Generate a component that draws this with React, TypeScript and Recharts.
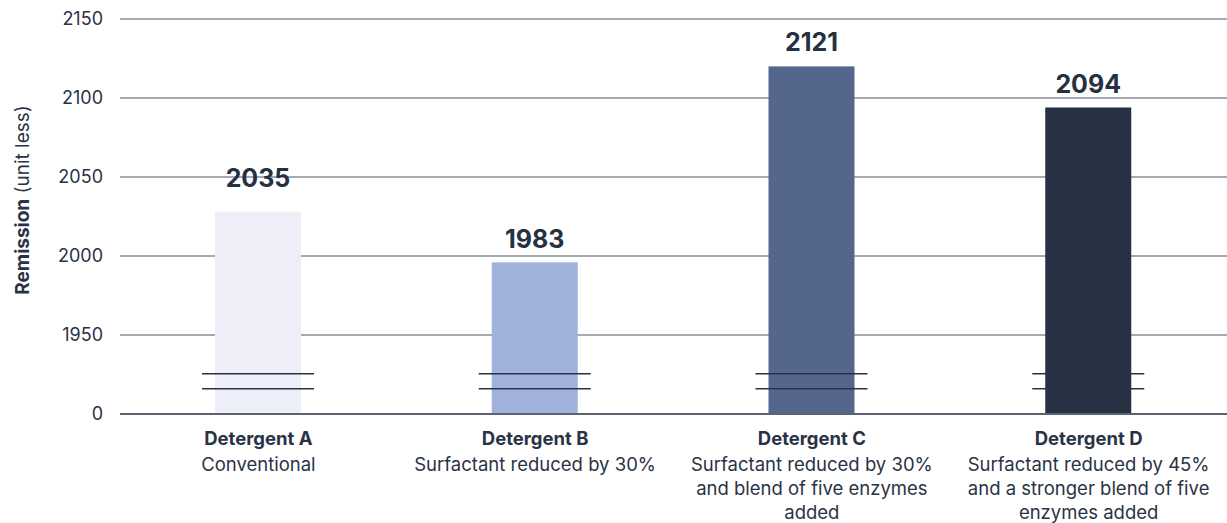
import React from "react";
import {
  BarChart,
  Bar,
  XAxis,
  YAxis,
  CartesianGrid,
  Cell,
  LabelList,
  Label,
} from "recharts";

const products = ["Detergent A", "Detergent B", "Detergent C", "Detergent D"];
const descriptions = [
  ["Conventional"],
  ["Surfactant reduced by 30%"],
  ["Surfactant reduced by 30%", "and blend of five enzymes", "added"],
  ["Surfactant reduced by 45%", "and a stronger blend of five", "enzymes added"],
];
// bar heights as drawn vs. the numbers printed above them
const barValues = [2028, 1996, 2120, 2094];
const printedValues = [2035, 1983, 2121, 2094];
const barColors = ["#eeeef8", "#a0b2dc", "#54668c", "#263244"];
const yTicks = [1900, 1950, 2000, 2050, 2100, 2150];

const AXIS_BASE = 1900; // drawn as "0" after the axis break
const FONT = "Inter, 'Noto Sans', sans-serif";
const INK = "#2a3345";

const data = products.map((name, i) => ({
  name,
  value: barValues[i],
  printed: printedValues[i],
}));

// bar with the double break mark near its foot
const BrokenBar = (props: any) => {
  const { x, y, width, height, fill, value } = props;
  const v = Array.isArray(value) ? value[1] : value;
  const ppu = height / (v - AXIS_BASE);
  const bottom = y + height;
  const y1 = bottom - 25.5 * ppu;
  const y2 = bottom - 16 * ppu;
  return (
    <g>
      <rect x={x} y={y} width={width} height={height} fill={fill} />
      <line x1={x - 13} x2={x + width + 13} y1={y1} y2={y1} stroke={INK} strokeWidth={1.5} />
      <line x1={x - 13} x2={x + width + 13} y1={y2} y2={y2} stroke={INK} strokeWidth={1.5} />
    </g>
  );
};

const ValueLabel = (props: any) => {
  const { x, y, width, height, index, value } = props;
  const printed = printedValues[index];
  const ppu = height / (value - AXIS_BASE);
  const top = Math.max(value, printed);
  const yRef = y - (top - value) * ppu;
  return (
    <text
      x={x + width / 2}
      y={yRef - 14}
      textAnchor="middle"
      fontFamily={FONT}
      fontWeight={700}
      fontSize={25}
      fill="#253142"
    >
      {printed}
    </text>
  );
};

const CategoryTick = (props: any) => {
  const { x, y, payload } = props;
  const idx = products.indexOf(payload.value);
  const lines = descriptions[idx] || [];
  return (
    <g>
      <text
        x={x}
        y={y + 25}
        textAnchor="middle"
        fontFamily={FONT}
        fontWeight={700}
        fontSize={18.5}
        fill={INK}
      >
        {payload.value}
      </text>
      {lines.map((ln, i) => (
        <text
          key={i}
          x={x}
          y={y + 51 + i * 24}
          textAnchor="middle"
          fontFamily={FONT}
          fontSize={18.5}
          fill={INK}
        >
          {ln}
        </text>
      ))}
    </g>
  );
};

const AxisTitle = () => (
  <text
    transform="translate(29, 200) rotate(-90)"
    textAnchor="middle"
    fontFamily={FONT}
    fontSize={19}
    fill={INK}
  >
    <tspan fontWeight={700}>Remission</tspan>
    <tspan> (unit less)</tspan>
  </text>
);

export default function App() {
  return (
    <div style={{ width: 1227, height: 523, background: "#fff" }}>
      <style>{"html,body{margin:0;padding:0;overflow:hidden}"}</style>
      <BarChart
        width={1227}
        height={523}
        data={data}
        margin={{ top: 19, right: 0, left: 0, bottom: 0 }}
      >
        <CartesianGrid vertical={false} stroke="#4a5568" strokeWidth={1} />
        <XAxis
          dataKey="name"
          height={109}
          axisLine={{ stroke: "#5c6370", strokeWidth: 2 }}
          tickLine={false}
          tickSize={0}
          tickMargin={6}
          interval={0}
          tick={<CategoryTick />}
        />
        <YAxis
          width={120}
          domain={[AXIS_BASE, 2150]}
          ticks={yTicks}
          axisLine={false}
          tickLine={false}
          tickSize={0}
          tickMargin={17}
          tickFormatter={(v: number) => (v === AXIS_BASE ? "0" : String(v))}
          tick={{ fontFamily: FONT, fontSize: 18, fill: INK }}
        >
          <Label content={<AxisTitle />} />
        </YAxis>
        <Bar dataKey="value" barSize={86} shape={<BrokenBar />} isAnimationActive={false}>
          {data.map((d, i) => (
            <Cell key={d.name} fill={barColors[i]} />
          ))}
          <LabelList dataKey="value" content={<ValueLabel />} />
        </Bar>
      </BarChart>
    </div>
  );
}
